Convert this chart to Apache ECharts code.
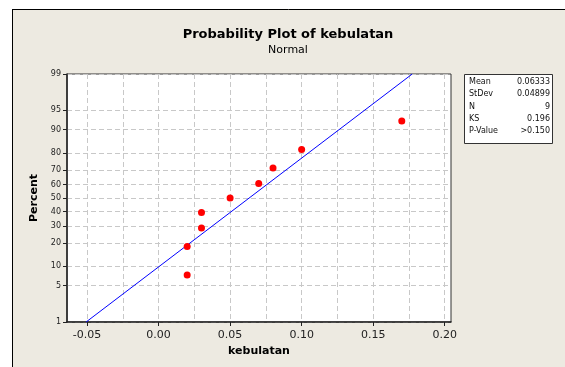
<!DOCTYPE html>
<html><head><meta charset="utf-8">
<script src="https://cdn.jsdelivr.net/npm/echarts@6/dist/echarts.min.js"></script>
<style>html,body{margin:0;padding:0;background:#fff}#c{width:565px;height:367px}</style>
</head><body><div id="c"></div>
<script>
const kebulatan = [0.02, 0.02, 0.03, 0.03, 0.05, 0.07, 0.08, 0.10, 0.17];
const percent = [7.45, 18.09, 28.72, 39.36, 50, 60.64, 71.28, 81.91, 92.55];
const yTickLabels = [1, 5, 10, 20, 30, 40, 50, 60, 70, 80, 90, 95, 99];
const xTickLabels = [-0.05, 0, 0.05, 0.10, 0.15, 0.20];
const xGridValues = [-0.05, -0.025, 0, 0.025, 0.05, 0.075, 0.1, 0.125, 0.15, 0.175, 0.2];
const statLabels = ['Mean', 'StDev', 'N', 'KS', 'P-Value'];
const statValues = ['0.06333', '0.04899', '9', '0.196', '>0.150'];
const fitMean = 0.06333, fitStDev = 0.04899;
const fitPercent = [1, 99];

function probit(p){
  const a=[-3.969683028665376e+01,2.209460984245205e+02,-2.759285104469687e+02,1.383577518672690e+02,-3.066479806614716e+01,2.506628277459239e+00];
  const b=[-5.447609879822406e+01,1.615858368580409e+02,-1.556989798598866e+02,6.680131188771972e+01,-1.328068155288572e+01];
  const c=[-7.784894002430293e-03,-3.223964580411365e-01,-2.400758277161838e+00,-2.549732539343734e+00,4.374664141464968e+00,2.938163982698783e+00];
  const d=[7.784695709041462e-03,3.224671290700398e-01,2.445134137142996e+00,3.754408661907416e+00];
  const pl=0.02425, ph=1-pl; let q, r;
  if(p<pl){q=Math.sqrt(-2*Math.log(p));return (((((c[0]*q+c[1])*q+c[2])*q+c[3])*q+c[4])*q+c[5])/((((d[0]*q+d[1])*q+d[2])*q+d[3])*q+1);}
  if(p<=ph){q=p-0.5;r=q*q;return (((((a[0]*r+a[1])*r+a[2])*r+a[3])*r+a[4])*r+a[5])*q/(((((b[0]*r+b[1])*r+b[2])*r+b[3])*r+b[4])*r+1);}
  q=Math.sqrt(-2*Math.log(1-p));return -(((((c[0]*q+c[1])*q+c[2])*q+c[3])*q+c[4])*q+c[5])/((((d[0]*q+d[1])*q+d[2])*q+d[3])*q+1);
}

const yZ = yTickLabels.map(v => probit(v / 100));
const points = kebulatan.map((x, i) => [x, probit(percent[i] / 100)]);
const fitLine = fitPercent.map(p => { const z = probit(p / 100); return [fitMean + fitStDev * z, z]; });

const FONT = 'DejaVu Sans';
const chart = echarts.init(document.getElementById('c'), null, {renderer: 'canvas'});

const gridX = 67, gridY = 74, gridW = 384, gridH = 248;
const boxX = 464, boxY = 74, boxW = 88, rowH = 12.3;

const statGraphics = [];
statLabels.forEach((l, i) => {
  statGraphics.push({type: 'text', left: boxX + 5, top: boxY + 4 + i * rowH,
    style: {text: l, font: '8px "' + FONT + '"', fill: '#111'}});
  statGraphics.push({type: 'text', right: 565 - (boxX + boxW - 2), top: boxY + 4 + i * rowH,
    style: {text: statValues[i], font: '8px "' + FONT + '"', fill: '#111', textAlign: 'right'}});
});

chart.setOption({
  animation: false,
  backgroundColor: '#EDEAE1',
  title: {
    text: 'Probability Plot of kebulatan',
    subtext: 'Normal',
    left: 288, top: 28, textAlign: 'center', itemGap: 4, padding: 0,
    textStyle: {fontFamily: FONT, fontSize: 13, fontWeight: 'bold', color: '#000'},
    subtextStyle: {fontFamily: FONT, fontSize: 11, color: '#000'}
  },
  graphic: [
    {type: 'rect', left: 0, top: 0, shape: {width: 565, height: 9}, style: {fill: '#fff'}, silent: true},
    {type: 'rect', left: 0, top: 0, shape: {width: 12, height: 367}, style: {fill: '#fff'}, silent: true},
    {type: 'line', shape: {x1: 12, y1: 9.5, x2: 565, y2: 9.5}, style: {stroke: '#000', lineWidth: 1}, silent: true},
    {type: 'line', shape: {x1: 12.5, y1: 9, x2: 12.5, y2: 367}, style: {stroke: '#000', lineWidth: 1}, silent: true},
    {type: 'rect', left: boxX, top: boxY, shape: {width: boxW, height: 69}, style: {fill: '#fff', stroke: '#333', lineWidth: 1}, silent: true},
    ...statGraphics
  ],
  grid: {left: gridX, top: gridY, width: gridW, height: gridH, show: true,
    backgroundColor: '#fff', borderColor: '#333', borderWidth: 1, containLabel: false},
  xAxis: [{
    type: 'value', min: -0.064, max: 0.2044, position: 'bottom',
    name: 'kebulatan', nameLocation: 'middle', nameGap: 24,
    nameTextStyle: {fontFamily: FONT, fontSize: 11, fontWeight: 'bold', color: '#000'},
    axisLine: {show: true, onZero: false, lineStyle: {color: '#222', width: 1.5}},
    axisTick: {show: true, length: 4, customValues: xTickLabels, lineStyle: {color: '#222'}},
    axisLabel: {customValues: xTickLabels, fontFamily: FONT, fontSize: 11, color: '#222', margin: 8,
      formatter: v => v.toFixed(2)},
    splitLine: {show: false}
  }, {
    type: 'value', min: -0.064, max: 0.2044, position: 'bottom',
    axisLine: {show: false, onZero: false}, axisLabel: {show: false},
    axisTick: {show: false, customValues: xGridValues},
    splitLine: {show: true, lineStyle: {color: '#c8c8c8', type: [5, 3], width: 1}}
  }],
  yAxis: {
    type: 'value', min: yZ[0], max: yZ[yZ.length - 1],
    name: 'Percent', nameLocation: 'middle', nameGap: 22, nameRotate: 90,
    nameTextStyle: {fontFamily: FONT, fontSize: 11, fontWeight: 'bold', color: '#000'},
    axisLine: {show: true, onZero: false, lineStyle: {color: '#222', width: 1.5}},
    axisTick: {show: true, length: 4, customValues: yZ, lineStyle: {color: '#222'}},
    axisLabel: {customValues: yZ, fontFamily: FONT, fontSize: 8, color: '#222', margin: 6,
      formatter: v => { const i = yZ.findIndex(z => Math.abs(z - v) < 1e-6); return i >= 0 ? String(yTickLabels[i]) : ''; }},
    splitLine: {show: true, lineStyle: {color: '#c8c8c8', type: [5, 3], width: 1}}
  },
  series: [{
    type: 'line', data: fitLine, xAxisIndex: 0, symbol: 'none',
    lineStyle: {color: '#0000FF', width: 1}, z: 3
  }, {
    type: 'scatter', data: points, xAxisIndex: 0, symbol: 'circle', symbolSize: 7,
    itemStyle: {color: '#FF0000', opacity: 1}, z: 4
  }]
});
</script></body></html>
